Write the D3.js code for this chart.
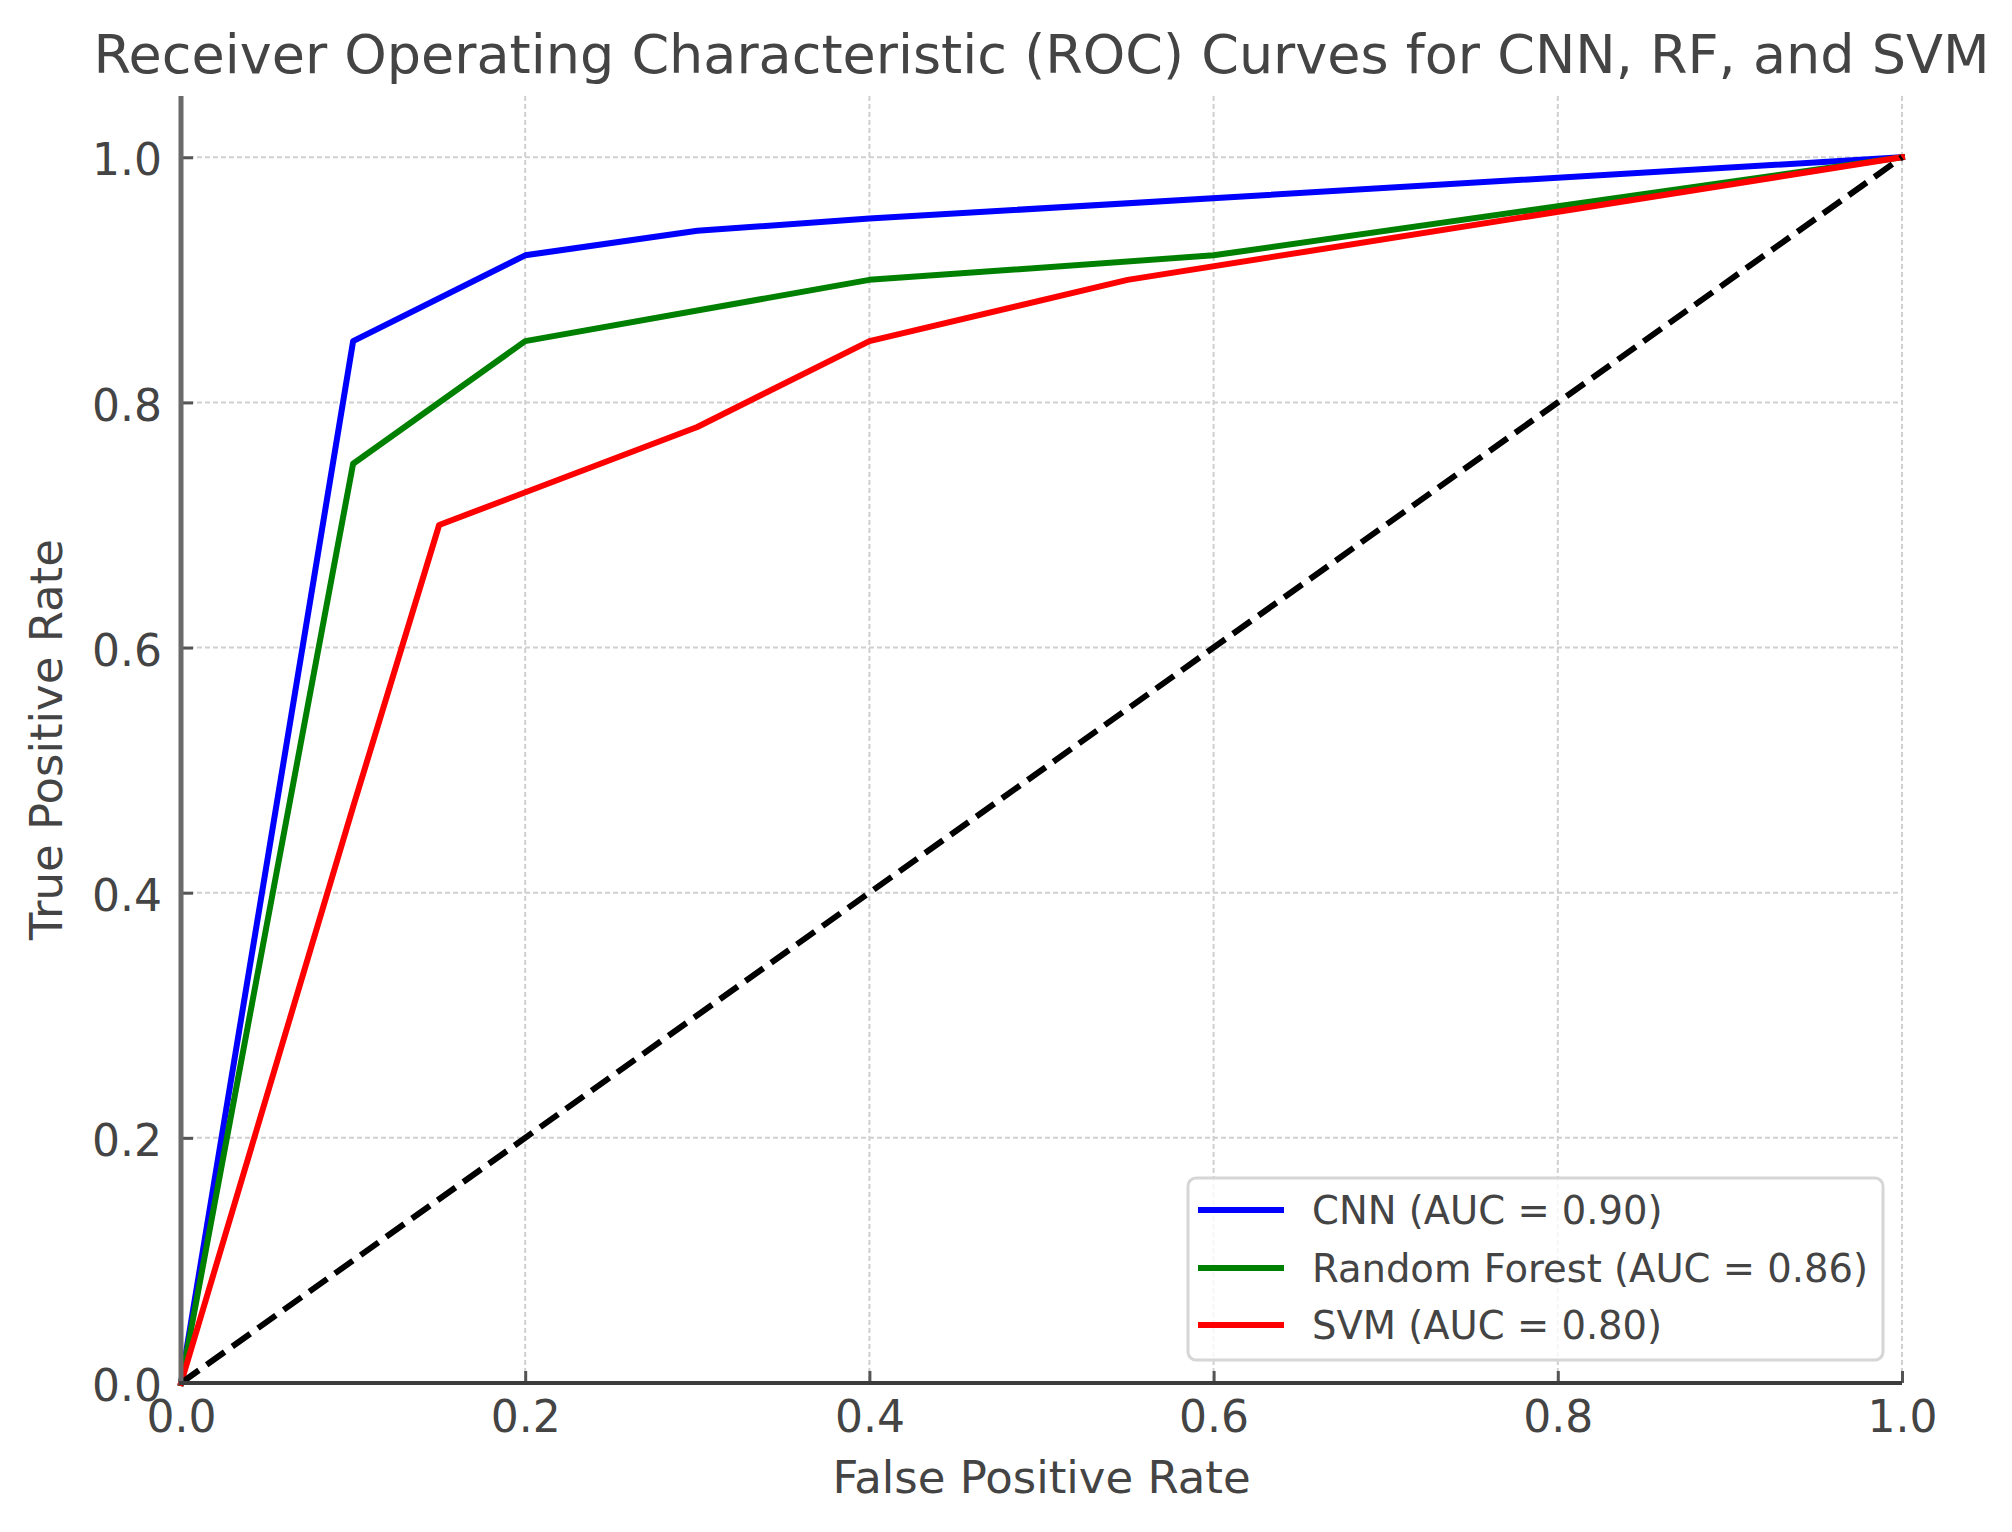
<!DOCTYPE html>
<html>
<head>
<meta charset="utf-8">
<script src="https://cdn.jsdelivr.net/npm/d3@7"></script>
<style>
  html, body { margin: 0; padding: 0; background: #fff; }
  svg { display: block; }
  text { font-family: "DejaVu Sans", sans-serif; }
</style>
</head>
<body>
<svg id="chart" width="2012" height="1532"></svg>
<script>
// ---- data ----
const titleText = "Receiver Operating Characteristic (ROC) Curves for CNN, RF, and SVM";
const xLabel = "False Positive Rate";
const yLabel = "True Positive Rate";
const xTicks = [0, 0.2, 0.4, 0.6, 0.8, 1.0];
const yTicks = [0, 0.2, 0.4, 0.6, 0.8, 1.0];

const cnnFpr = [0, 0.1, 0.2, 0.3, 0.4, 1.0];
const cnnTpr = [0, 0.85, 0.92, 0.94, 0.95, 1.0];
const rfFpr  = [0, 0.1, 0.2, 0.4, 0.6, 1.0];
const rfTpr  = [0, 0.75, 0.85, 0.90, 0.92, 1.0];
const svmFpr = [0, 0.1, 0.15, 0.3, 0.4, 0.55, 1.0];
const svmTpr = [0, 0.47, 0.70, 0.78, 0.85, 0.90, 1.0];
const diagFpr = [0, 1];
const diagTpr = [0, 1];

const seriesNames = ["CNN (AUC = 0.90)", "Random Forest (AUC = 0.86)", "SVM (AUC = 0.80)"];
const seriesColors = ["#0000ff", "#008000", "#ff0000"];

// ---- layout ----
const svg = d3.select("#chart");
svg.append("rect").attr("width", 2012).attr("height", 1532).attr("fill", "#fff");

const L = 181, R = 1902, T = 96, B = 1383;
const x = d3.scaleLinear().domain([0, 1]).range([L, R]);
const y = d3.scaleLinear().domain([0, 1.05]).range([B, T]);

// grid
const grid = svg.append("g");
grid.selectAll(".vg").data(xTicks).join("line")
  .attr("x1", d => x(d)).attr("x2", d => x(d))
  .attr("y1", T).attr("y2", B)
  .attr("stroke", "#d0d0d0").attr("stroke-width", 2).attr("stroke-dasharray", "5,3");
grid.selectAll(".hg").data(yTicks).join("line")
  .attr("x1", L).attr("x2", R)
  .attr("y1", d => y(d)).attr("y2", d => y(d))
  .attr("stroke", "#d0d0d0").attr("stroke-width", 2).attr("stroke-dasharray", "5,3");

// curves
const series = [
  {fpr: cnnFpr, tpr: cnnTpr},
  {fpr: rfFpr, tpr: rfTpr},
  {fpr: svmFpr, tpr: svmTpr}
];
const line = d3.line().x(d => x(d[0])).y(d => y(d[1]));
series.forEach((s, i) => {
  svg.append("path")
    .attr("d", line(s.fpr.map((f, j) => [f, s.tpr[j]])))
    .attr("fill", "none")
    .attr("stroke", seriesColors[i])
    .attr("stroke-width", 6)
    .attr("stroke-linejoin", "round")
    .attr("stroke-linecap", "square");
});
svg.append("path")
  .attr("d", line(diagFpr.map((f, j) => [f, diagTpr[j]])))
  .attr("fill", "none")
  .attr("stroke", "#000")
  .attr("stroke-width", 6)
  .attr("stroke-dasharray", "22,9.5");

// axes
const xAxis = svg.append("g").attr("transform", `translate(0,${B})`)
  .call(d3.axisBottom(x).tickValues(xTicks).tickFormat(d3.format(".1f"))
    .tickSizeInner(-12).tickSizeOuter(0).tickPadding(18));
const yAxis = svg.append("g").attr("transform", `translate(${L},0)`)
  .call(d3.axisLeft(y).tickValues(yTicks).tickFormat(d3.format(".1f"))
    .tickSizeInner(-12).tickSizeOuter(0).tickPadding(19));
[xAxis, yAxis].forEach(a => {
  a.select(".domain").remove();
  a.selectAll(".tick line").attr("stroke", "#555").attr("stroke-width", 3);
  a.selectAll(".tick text").attr("fill", "#444").style("font-size", "44px")
    .style("font-family", "'DejaVu Sans', sans-serif");
});
yAxis.selectAll(".tick text").attr("dy", "0.4em");

// spines
svg.append("line").attr("x1", L).attr("x2", L).attr("y1", T).attr("y2", B + 2)
  .attr("stroke", "#6a6a6a").attr("stroke-width", 5);
svg.append("line").attr("x1", L - 2).attr("x2", R).attr("y1", B).attr("y2", B)
  .attr("stroke", "#3c3c3c").attr("stroke-width", 4);

// labels
svg.append("text").attr("x", (L + R) / 2).attr("y", 73)
  .attr("text-anchor", "middle").attr("fill", "#444").style("font-size", "54px")
  .text(titleText);
svg.append("text").attr("x", (L + R) / 2).attr("y", 1493)
  .attr("text-anchor", "middle").attr("fill", "#444").style("font-size", "45px")
  .text(xLabel);
svg.append("text").attr("transform", `translate(62,${(T + B) / 2}) rotate(-90)`)
  .attr("text-anchor", "middle").attr("fill", "#444").style("font-size", "45px")
  .text(yLabel);

// legend
const lg = svg.append("g");
lg.append("rect").attr("x", 1188).attr("y", 1178).attr("width", 695).attr("height", 182)
  .attr("rx", 8).attr("fill", "#fff").attr("fill-opacity", 0.8)
  .attr("stroke", "#d6d6d6").attr("stroke-width", 3);
const rowY = [1210, 1268, 1325];
seriesNames.forEach((name, i) => {
  lg.append("line").attr("x1", 1198).attr("x2", 1284).attr("y1", rowY[i]).attr("y2", rowY[i])
    .attr("stroke", seriesColors[i]).attr("stroke-width", 6);
  lg.append("text").attr("x", 1312).attr("y", rowY[i] + 14)
    .attr("fill", "#444").style("font-size", "38.5px").text(name);
});
</script>
</body>
</html>
